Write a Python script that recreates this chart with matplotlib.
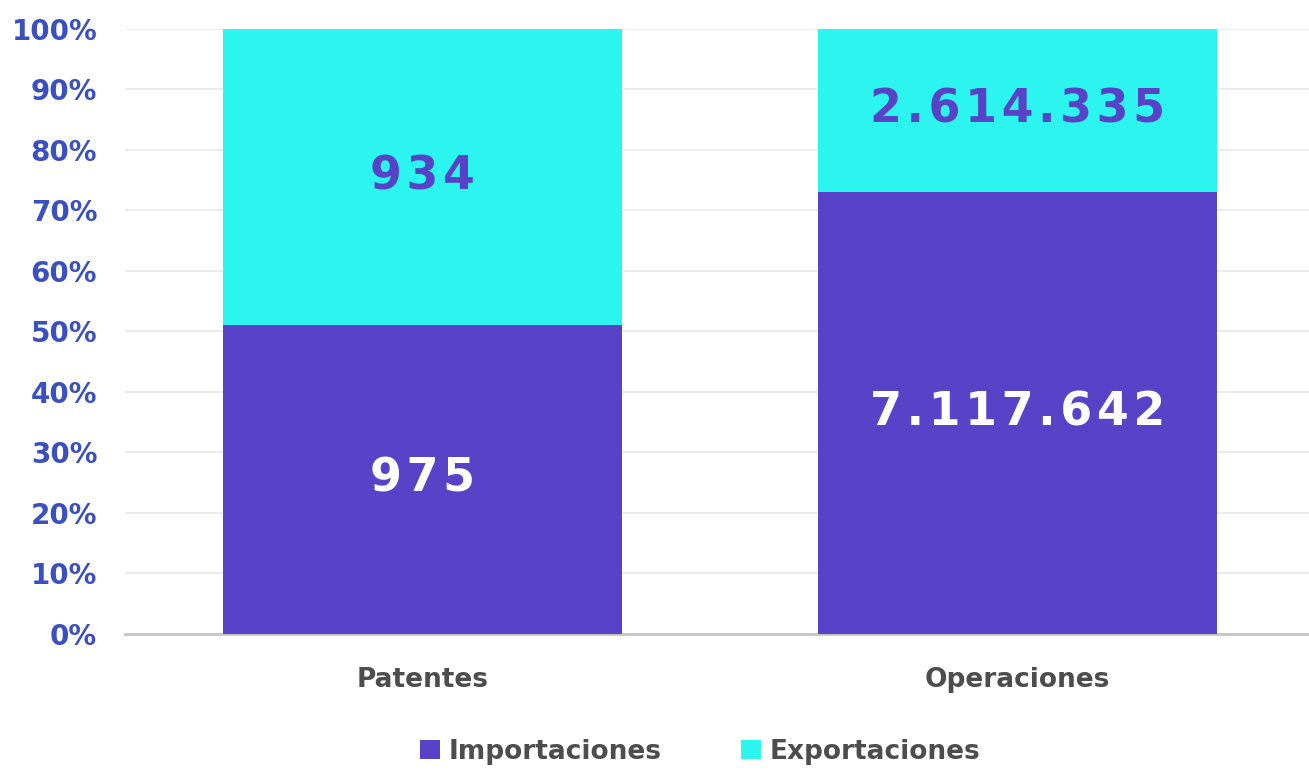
import matplotlib.pyplot as plt
import numpy as np

categories = ["Patentes", "Operaciones"]
importaciones = [975, 7117642]
exportaciones = [934, 2614335]
series_names = ["Importaciones", "Exportaciones"]
value_labels_imp = ["975", "7.117.642"]
value_labels_exp = ["934", "2.614.335"]

PURPLE = "#5842c8"
CYAN = "#2bf5ee"
TICK_BLUE = "#3a50c0"
GREY_TEXT = "#4d4d4d"

imp = np.array(importaciones, dtype=float)
exp_ = np.array(exportaciones, dtype=float)
total = imp + exp_
imp_pct = imp / total * 100
exp_pct = exp_ / total * 100


def spaced(s):
    # the reference numbers are slightly letter-spaced
    return "\u200a".join(s)


fig = plt.figure(figsize=(13.09, 7.71), dpi=100)
ax = fig.add_axes([0.0955, 0.1777, 0.9045, 0.7847])

x = np.arange(len(categories))
width = 0.67
bars_imp = ax.bar(x, imp_pct, width, color=PURPLE, label=series_names[0], zorder=3)
bars_exp = ax.bar(x, exp_pct, width, bottom=imp_pct, color=CYAN,
                  label=series_names[1], zorder=3)

# value labels, centred in each segment
for i in range(len(categories)):
    ax.text(x[i], imp_pct[i] / 2, spaced(value_labels_imp[i]), ha="center",
            va="center", color="white", fontsize=33, fontweight="bold", zorder=4)
    ax.text(x[i], imp_pct[i] + exp_pct[i] / 2, spaced(value_labels_exp[i]),
            ha="center", va="center", color=PURPLE, fontsize=33,
            fontweight="bold", zorder=4)

ax.set_xlim(-0.5, 1.49)
ax.set_ylim(0, 100)
ax.set_yticks(np.arange(0, 101, 10))
ax.set_yticklabels([f"{v}%" for v in range(0, 101, 10)])
ax.set_xticks(x)
ax.set_xticklabels(categories)

ax.tick_params(axis="y", length=0, pad=20, labelsize=20, labelcolor=TICK_BLUE)
ax.tick_params(axis="x", length=0, pad=24, labelsize=19, labelcolor=GREY_TEXT)
for lbl in ax.get_yticklabels() + ax.get_xticklabels():
    lbl.set_fontweight("bold")

ax.grid(axis="y", color="#e8e8e8", linewidth=1.2, zorder=0)
for side in ["top", "right", "left"]:
    ax.spines[side].set_visible(False)
ax.spines["bottom"].set_color("#c4c4c4")
ax.spines["bottom"].set_linewidth(2)

leg = fig.legend(handles=[bars_imp, bars_exp], labels=series_names,
                 loc="center", bbox_to_anchor=(0.535, 0.025), ncol=2,
                 frameon=False, handlelength=0.75, handleheight=0.75,
                 handletextpad=0.35, columnspacing=3.0,
                 prop={"size": 19, "weight": "bold"})
for t in leg.get_texts():
    t.set_color(GREY_TEXT)

fig.savefig("out.png", dpi=100)
